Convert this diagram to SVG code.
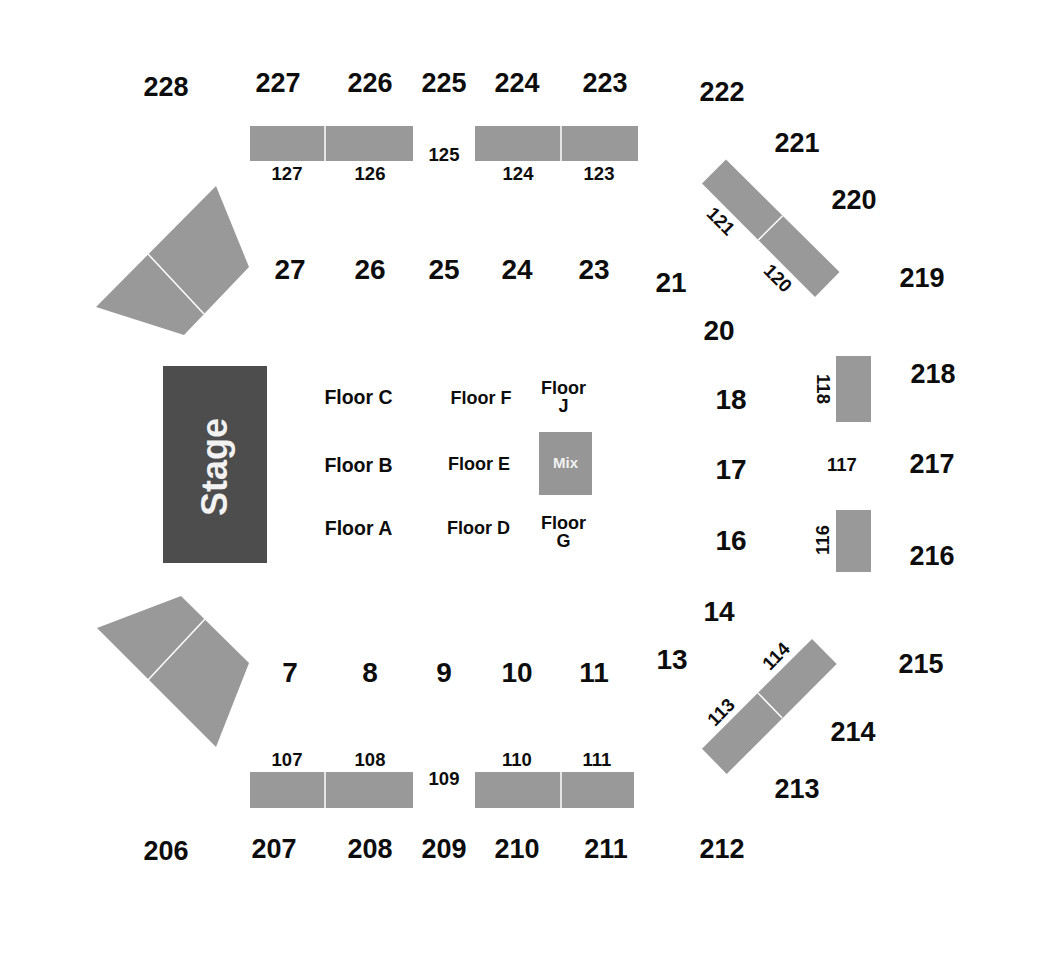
<svg xmlns="http://www.w3.org/2000/svg" width="1050" height="976" viewBox="0 0 1050 976">
<style>
text{font-family:"Liberation Sans",Arial,sans-serif;font-weight:bold;fill:#0d0d0d;text-anchor:middle}
.a{font-size:27px}
.b{font-size:28px}
.c{font-size:18.5px}
.d{font-size:19.5px}
.e{font-size:18px}
.s{fill:#999}
.l{stroke:#fff;stroke-width:1.5;fill:none}
</style>
<rect width="1050" height="976" fill="#fff"/>
<g id="stage"><rect x="163" y="366" width="104" height="197" fill="#4d4d4d"/><text transform="translate(227,467) rotate(-90)" style="font-size:36px;fill:#f2f2f2">Stage</text></g>
<g id="mix"><rect x="539" y="432" width="53" height="63" fill="#969696"/><text x="565.500" y="468" style="font-size:15px;fill:#f2f2f2">Mix</text></g>
<g id="blocks">
<rect class="s" x="250" y="126" width="163" height="35"/><path class="l" d="M325 126V161"/>
<rect class="s" x="475" y="126" width="163" height="35"/><path class="l" d="M561 126V161"/>
<rect class="s" x="250" y="772" width="163" height="36"/><path class="l" d="M325 772V808"/>
<rect class="s" x="475" y="772" width="159" height="36"/><path class="l" d="M561 772V808"/>
<rect class="s" x="836" y="356" width="35" height="66"/>
<rect class="s" x="836" y="510" width="35" height="62"/>
<polygon class="s" points="726,159.500 839.500,272 815,297 702,183.500"/><path class="l" d="M782.700 215.700L758.300 240"/>
<polygon class="s" points="812,639 836.700,664 726.700,774 702,748.700"/><path class="l" d="M758 693L782 717.700"/>
<polygon class="s" points="216,186 249,267 184,335 96,307"/><path class="l" d="M148 254L204 314"/>
<polygon class="s" points="181,596 249,663 216,747 97,628"/><path class="l" d="M205 619L148 680"/>
</g>
<g id="labels">
<g class="a">
<text x="166" y="96">228</text><text x="278" y="92">227</text><text x="370" y="92">226</text><text x="444" y="92">225</text><text x="517" y="92">224</text><text x="605" y="92">223</text><text x="722" y="101">222</text><text x="797" y="152">221</text><text x="854" y="209">220</text><text x="922" y="287">219</text><text x="933" y="383">218</text><text x="932" y="473">217</text><text x="932" y="565">216</text><text x="921" y="673">215</text><text x="853" y="741">214</text><text x="797" y="798">213</text><text x="722" y="858">212</text><text x="606" y="858">211</text><text x="517" y="858">210</text><text x="444" y="858">209</text><text x="370" y="858">208</text><text x="274" y="858">207</text><text x="166" y="860">206</text>
</g>
<g class="b">
<text x="290" y="279">27</text><text x="370" y="279">26</text><text x="444" y="279">25</text><text x="517" y="279">24</text><text x="594" y="279">23</text><text x="671" y="292">21</text><text x="719" y="340">20</text><text x="731" y="409">18</text><text x="731" y="479">17</text><text x="731" y="550">16</text><text x="719" y="621">14</text><text x="672" y="669">13</text><text x="290" y="682">7</text><text x="370" y="682">8</text><text x="444" y="682">9</text><text x="517" y="682">10</text><text x="594" y="682">11</text>
</g>
<g class="c">
<text x="287" y="180">127</text><text x="370" y="180">126</text><text x="444" y="161">125</text><text x="518" y="180">124</text><text x="599" y="180">123</text>
<text x="287" y="766">107</text><text x="370" y="766">108</text><text x="444" y="785">109</text><text x="517" y="766">110</text><text x="597" y="766">111</text>
<text x="842" y="471">117</text>
<text transform="translate(823,389) rotate(90)" y="6.500">118</text>
<text transform="translate(822,540) rotate(-90)" y="6.500">116</text>
<text transform="translate(721,221) rotate(45)" y="6.500">121</text>
<text transform="translate(778,278) rotate(45)" y="6.500">120</text>
<text transform="translate(721,712) rotate(-45)" y="6.500">113</text>
<text transform="translate(776,656) rotate(-45)" y="6.500">114</text>
</g>
<g class="d">
<text x="358.500" y="404">Floor C</text><text x="358.500" y="472">Floor B</text><text x="358.500" y="535">Floor A</text>
</g>
<g class="e">
<text x="481" y="404">Floor F</text><text x="479" y="470">Floor E</text><text x="478.500" y="534">Floor D</text>
<text x="563.500" y="394">Floor</text><text x="563.500" y="412">J</text>
<text x="563.500" y="529">Floor</text><text x="563.500" y="547">G</text>
</g>
</g>
</svg>
